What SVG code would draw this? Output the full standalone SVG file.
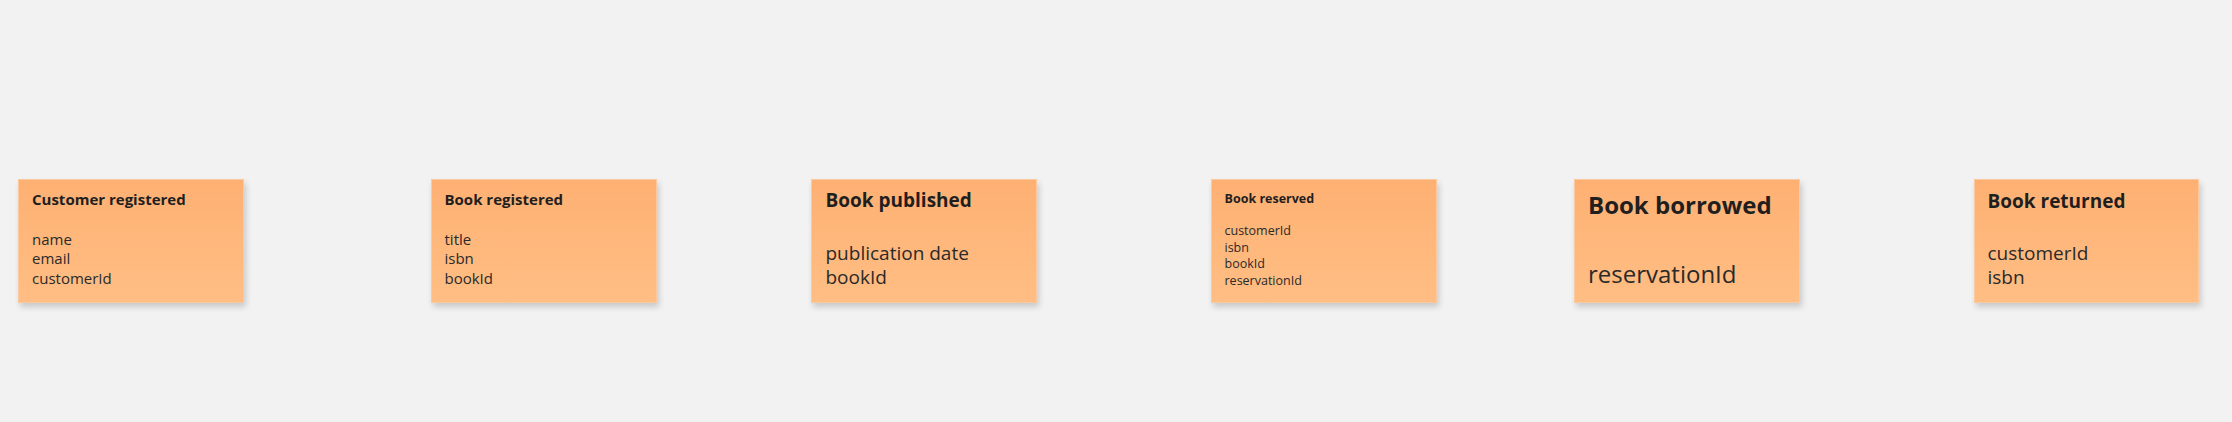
<svg xmlns="http://www.w3.org/2000/svg" width="2232" height="422" viewBox="0 0 2232 422">
<defs>
<linearGradient id="sticky" x1="0" y1="0" x2="0" y2="1">
<stop offset="0" stop-color="#FEB072"/>
<stop offset="1" stop-color="#FFBE84"/>
</linearGradient>
<filter id="shadow" x="-10%" y="-10%" width="130%" height="140%">
<feGaussianBlur in="SourceAlpha" stdDeviation="3"/>
<feOffset dx="2" dy="4" result="b"/>
<feComponentTransfer><feFuncA type="linear" slope="0.18"/></feComponentTransfer>
<feMerge><feMergeNode/><feMergeNode in="SourceGraphic"/></feMerge>
</filter>
</defs>
<style>
.note{fill:url(#sticky);stroke:#FBC9A0;stroke-width:1;filter:url(#shadow)}
text{font-family:"Open Sans","Noto Sans","Liberation Sans",sans-serif;fill:#2a2a2a}
.t{font-weight:bold;fill:#1f1f1f}
</style>
<rect width="2232" height="422" fill="#F2F2F2"/>
<g id="connectors"/>
<g id="customer-registered">
<rect class="note" x="18.5" y="179.5" width="225" height="123"/>
<text class="t" x="32" y="205" font-size="15">Customer registered</text>
<text x="32" y="244.5" font-size="15">name</text>
<text x="32" y="264" font-size="15">email</text>
<text x="32" y="283.5" font-size="15">customerId</text>
</g>
<g id="book-registered">
<rect class="note" x="431.5" y="179.5" width="225" height="123"/>
<text class="t" x="444.5" y="205" font-size="15">Book registered</text>
<text x="444.5" y="244.5" font-size="15">title</text>
<text x="444.5" y="264" font-size="15">isbn</text>
<text x="444.5" y="283.5" font-size="15">bookId</text>
</g>
<g id="book-published">
<rect class="note" x="811.5" y="179.5" width="225" height="123"/>
<text class="t" x="825.5" y="206.5" font-size="19">Book published</text>
<text x="825.5" y="259.5" font-size="19">publication date</text>
<text x="825.5" y="283.5" font-size="19">bookId</text>
</g>
<g id="book-reserved">
<rect class="note" x="1211.5" y="179.5" width="225" height="123"/>
<text class="t" x="1224.5" y="202.5" font-size="12.5">Book reserved</text>
<text x="1224.5" y="235" font-size="12.5">customerId</text>
<text x="1224.5" y="251.5" font-size="12.5">isbn</text>
<text x="1224.5" y="268" font-size="12.5">bookId</text>
<text x="1224.5" y="284.5" font-size="12.5">reservationId</text>
</g>
<g id="book-borrowed">
<rect class="note" x="1574.5" y="179.5" width="225" height="123"/>
<text class="t" x="1588" y="214" font-size="24">Book borrowed</text>
<text x="1588" y="282.5" font-size="24">reservationId</text>
</g>
<g id="book-returned">
<rect class="note" x="1974.5" y="179.5" width="224" height="123"/>
<text class="t" x="1987.5" y="207.5" font-size="19">Book returned</text>
<text x="1987.5" y="259.5" font-size="19">customerId</text>
<text x="1987.5" y="283.5" font-size="19">isbn</text>
</g>
</svg>
